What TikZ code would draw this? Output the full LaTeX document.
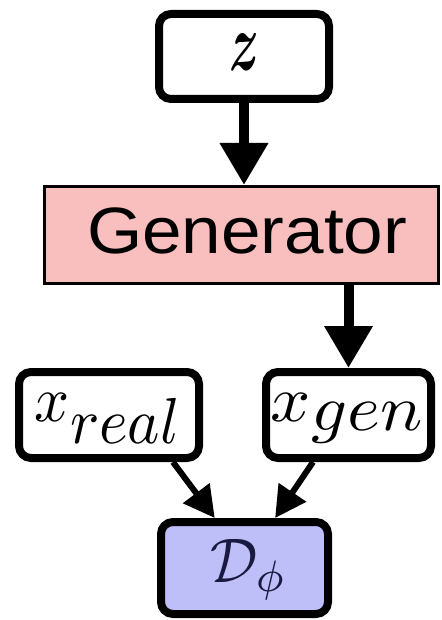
\documentclass[tikz,border=0pt]{standalone}
\usepackage{fontspec}
\usepackage{amsmath}
\usepackage{graphicx}
\newfontfamily\genfont{Liberation Sans}
\usetikzlibrary{arrows.meta,calc}

\definecolor{genpink}{HTML}{F9BEBE}
\definecolor{discblue}{HTML}{BEBEF8}
\definecolor{disctext}{HTML}{1A1A40}

% scale a label uniformly, then stretch it to a given width
\newcommand{\lbl}[3]{\resizebox{#2}{\height}{\scalebox{#1}{#3}}}

\begin{document}
\begin{tikzpicture}[x=1pt,y=-1pt,
  roundbox/.style={draw, line width=8pt, rounded corners=12pt, fill=white, inner sep=0pt},
  genbox/.style={draw, line width=3pt, fill=genpink, inner sep=0pt},
  bigarrow/.style={line width=10pt, -{Triangle[length=42pt,width=46pt]}},
  smallarrow/.style={line width=6pt, -{Triangle[length=31pt,width=32pt]}}]

\useasboundingbox (0,0) rectangle (441,620);
\clip (0,0) rectangle (441,620);

% latent input
\node[roundbox, minimum width=170pt, minimum height=85pt,
      text height=28pt, text depth=0pt] (z) at (244,56.5)
  {\lbl{8.2}{30pt}{$\boldsymbol{z}$}};

% generator
\node[genbox, minimum width=394pt, minimum height=97pt,
      text height=36pt, text depth=0pt] (gen) at (241.5,235)
  {\hspace*{11pt}\lbl{6.55}{320pt}{\genfont Generator}};

% samples
\node[roundbox, minimum width=180pt, minimum height=86pt,
      text height=20pt, text depth=8pt] (xreal) at (109,415)
  {\lbl{6.5}{148pt}{$x_{\textstyle real}$}};
\node[roundbox, minimum width=165pt, minimum height=86pt,
      text height=20pt, text depth=8pt] (xgen) at (348.5,415)
  {\lbl{6.5}{155pt}{$x_{\textstyle gen}$}};

% discriminator
\node[roundbox, fill=discblue, text=disctext, minimum width=167pt, minimum height=92pt,
      text height=28pt, text depth=0pt] (disc) at (244.5,568)
  {\hspace*{8pt}\lbl{6.3}{77pt}{$\mathcal{D}_\phi$}};

% connectors
\draw[bigarrow] (z.south) -- (z.south |- gen.north);
\draw[bigarrow] (xgen.north |- gen.south) -- (xgen.north);
\draw[smallarrow] ($(xreal.south)!0.68!(xreal.south east)$)
  -- ($(disc.north)!0.34!(disc.north west)$);
\draw[smallarrow] ($(xgen.south)!0.41!(xgen.south west)$)
  -- ($(disc.north)!0.35!(disc.north east)$);
\end{tikzpicture}
\end{document}
